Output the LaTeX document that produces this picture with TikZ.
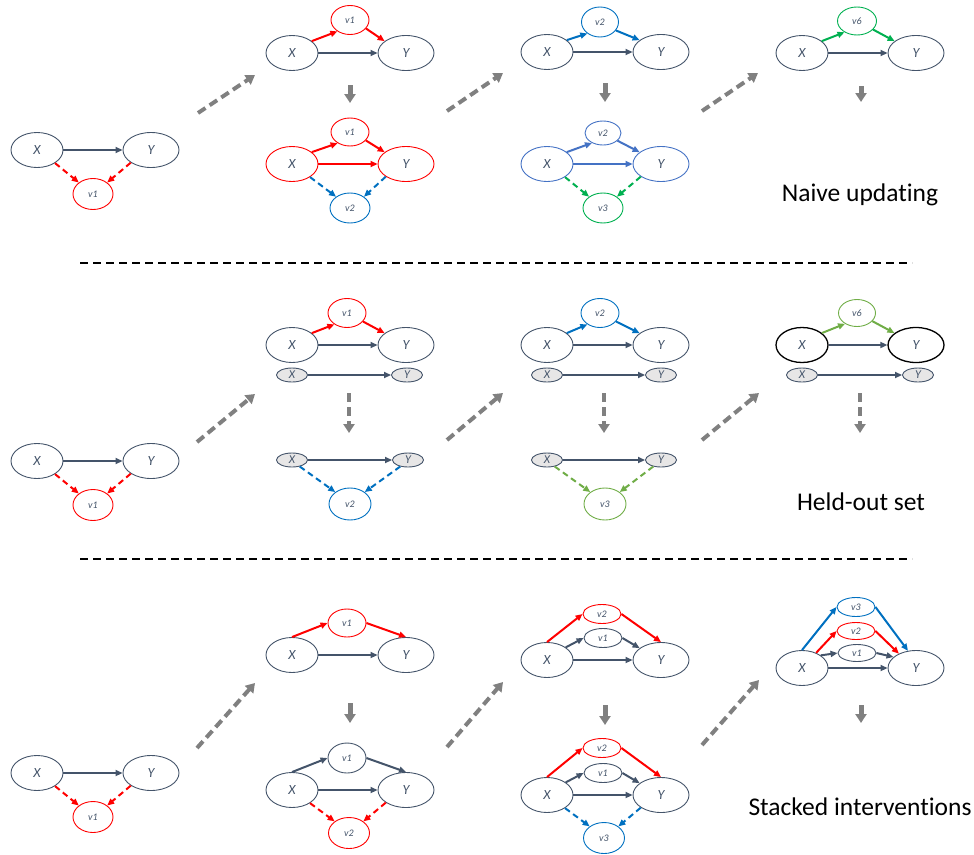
\documentclass[tikz,border=0pt]{standalone}
\usepackage{fontspec}
\setmainfont[Ligatures={NoCommon}]{Carlito}
\usetikzlibrary{shapes.geometric,arrows.meta}
\definecolor{slate}{HTML}{44546A}
\definecolor{msred}{HTML}{FF0000}
\definecolor{msblue}{HTML}{0070C0}
\definecolor{lblue}{HTML}{4472C4}
\definecolor{msgreen}{HTML}{00B050}
\definecolor{lgreen}{HTML}{70AD47}
\definecolor{arrgray}{HTML}{808080}
\definecolor{held}{HTML}{E7E6E6}
\newcommand\lbl{\fontsize{14}{14}\selectfont\itshape}
\newcommand\vlbl{\fontsize{10}{10}\selectfont\itshape}
\begin{document}
\begin{tikzpicture}[x=1pt,y=-1pt,
  main node/.style={ellipse,draw=slate,line width=0.9pt,inner sep=0pt,minimum width=52pt,minimum height=35pt,text=slate,font=\lbl},
  wide node/.style={main node,minimum width=56pt},
  var node/.style={main node,minimum width=38pt,minimum height=29pt,font=\vlbl},
  thin node/.style={var node,minimum height=19pt},
  held node/.style={main node,fill=held,minimum width=31pt,minimum height=14pt,font=\fontsize{12}{12}\selectfont\itshape},
  link/.style={line width=2pt,-{Triangle[length=7pt,width=6pt]},slate},
  dlink/.style={link,dash pattern=on 6pt off 4pt},
  flow/.style={line width=4pt,draw=arrgray,dash pattern=on 9pt off 5pt,-{Triangle[length=9pt,width=11pt]}},
  drop/.style={line width=5pt,draw=arrgray,-{Triangle[length=9pt,width=11pt]}},
  title/.style={font=\fontsize{25.5}{30}\selectfont,text=black}]
  \useasboundingbox (0,0) rectangle (974,854);

  % row 1: naive updating
  \node[main node] (a1x) at (37,150) {X};
  \node[wide node] (a1y) at (151,150) {Y};
  \node[var node,draw=msred,minimum width=40pt,minimum height=31pt] (a1v) at (93,194) {v1};

  \node[var node,draw=msred] (b1v) at (350,20) {v1};
  \node[main node] (b1x) at (292,53) {X};
  \node[wide node] (b1y) at (406,53) {Y};

  \node[var node,draw=msred,minimum height=28pt] (c1v) at (350,132) {v1};
  \node[main node,draw=msred] (c1x) at (292,164) {X};
  \node[wide node,draw=msred] (c1y) at (406,164) {Y};
  \node[var node,draw=msblue,minimum width=40pt,minimum height=30pt] (c1w) at (350,208) {v2};

  \node[var node,draw=msblue,minimum width=37pt,minimum height=30pt] (d1v) at (600,22) {v2};
  \node[main node] (d1x) at (547,52) {X};
  \node[wide node] (d1y) at (661,52) {Y};

  \node[var node,draw=lblue,minimum width=36pt,minimum height=24pt] (e1v) at (603,133) {v2};
  \node[main node,draw=lblue] (e1x) at (547,164) {X};
  \node[wide node,draw=lblue] (e1y) at (661,164) {Y};
  \node[var node,draw=msgreen,minimum width=40pt,minimum height=30pt] (e1w) at (603,208) {v3};

  \node[var node,draw=msgreen,minimum width=39pt,minimum height=28pt] (f1v) at (857,21) {v6};
  \node[main node] (f1x) at (802,53) {X};
  \node[wide node] (f1y) at (916,53) {Y};

  \node[title] (t1) at (860,195) {Naive updating};

  \path
   (a1x) edge[link] (a1y)
   (a1x.-36) edge[dlink,msred] (a1v.141)
   (a1y.-148) edge[dlink,msred] (a1v.39)
   (b1x) edge[link] (b1y)
   (b1x.31) edge[link,msred] (b1v.222)
   (b1v.-28) edge[link,msred] (b1y.151)
   (c1x) edge[link,msred] (c1y)
   (c1x.31) edge[link,msred] (c1v.222)
   (c1v.-28) edge[link,msred] (c1y.151)
   (c1x.-36) edge[dlink,msblue] (c1w.141)
   (c1y.-148) edge[dlink,msblue] (c1w.39)
   (d1x) edge[link] (d1y)
   (d1x.31) edge[link,msblue] (d1v.222)
   (d1v.-28) edge[link,msblue] (d1y.151)
   (e1x) edge[link,lblue] (e1y)
   (e1x.31) edge[link,lblue] (e1v.222)
   (e1v.-28) edge[link,lblue] (e1y.151)
   (e1x.-36) edge[dlink,msgreen] (e1w.141)
   (e1y.-148) edge[dlink,msgreen] (e1w.39)
   (f1x) edge[link] (f1y)
   (f1x.31) edge[link,msgreen] (f1v.222)
   (f1v.-28) edge[link,msgreen] (f1y.151);

  \draw[flow] (198,113) -- (255,75);
  \draw[flow] (447,111) -- (503,73);
  \draw[flow] (702,111) -- (758,73);
  \draw[drop] (350,85) -- (350,103);
  \draw[drop] (605,83) -- (605,102);
  \draw[drop] (861,86) -- (861,102);

  \draw[line width=2pt,dash pattern=on 8pt off 5pt] (80,263) -- (912,263);

  % row 2: held-out set
  \node[main node] (a2x) at (37,461) {X};
  \node[wide node] (a2y) at (151,461) {Y};
  \node[var node,draw=msred,minimum width=40pt,minimum height=31pt] (a2v) at (93,505) {v1};

  \node[var node,draw=msred] (b2v) at (347,313) {v1};
  \node[main node] (b2x) at (292,345) {X};
  \node[wide node] (b2y) at (406,345) {Y};
  \node[held node] (b2p) at (292,375) {X};
  \node[held node] (b2q) at (407,375) {Y};

  \node[held node] (c2p) at (292,460) {X};
  \node[held node] (c2q) at (408,460) {Y};
  \node[var node,draw=msblue,minimum width=42pt,minimum height=32pt] (c2v) at (350,504) {v2};

  \node[var node,draw=msblue] (d2v) at (600,313) {v2};
  \node[main node] (d2x) at (547,345) {X};
  \node[wide node] (d2y) at (661,345) {Y};
  \node[held node] (d2p) at (547,375) {X};
  \node[held node] (d2q) at (661,375) {Y};

  \node[held node] (e2p) at (547,460) {X};
  \node[held node] (e2q) at (661,460) {Y};
  \node[var node,draw=lgreen,minimum width=42pt,minimum height=32pt] (e2v) at (605,504) {v3};

  \node[var node,draw=lgreen,minimum width=37pt,minimum height=27pt] (f2v) at (857,313) {v6};
  \node[main node,draw=black,line width=1.3pt] (f2x) at (802,345) {X};
  \node[wide node,draw=black,line width=1.3pt] (f2y) at (916,345) {Y};
  \node[held node] (f2p) at (802,375) {X};
  \node[held node] (f2q) at (918,375) {Y};

  \node[title] (t2) at (861,502) {Held-out set};

  \path
   (a2x) edge[link] (a2y)
   (a2x.-36) edge[dlink,msred] (a2v.141)
   (a2y.-148) edge[dlink,msred] (a2v.39)
   (b2x) edge[link] (b2y)
   (b2x.31) edge[link,msred] (b2v.222)
   (b2v.-28) edge[link,msred] (b2y.151)
   (b2p) edge[link] (b2q)
   (c2p) edge[link] (c2q)
   (c2p.-40) edge[dlink,msblue] (c2v.141)
   (c2q.-140) edge[dlink,msblue] (c2v.39)
   (d2x) edge[link] (d2y)
   (d2x.31) edge[link,msblue] (d2v.222)
   (d2v.-28) edge[link,msblue] (d2y.151)
   (d2p) edge[link] (d2q)
   (e2p) edge[link] (e2q)
   (e2p.-40) edge[dlink,lgreen] (e2v.141)
   (e2q.-140) edge[dlink,lgreen] (e2v.39)
   (f2x) edge[link] (f2y)
   (f2x.31) edge[link,lgreen] (f2v.222)
   (f2v.-28) edge[link,lgreen] (f2y.151)
   (f2p) edge[link] (f2q);

  \draw[flow] (197,442) -- (255,394);
  \draw[flow] (447,440) -- (503,393);
  \draw[flow] (702,440) -- (759,393);
  \draw[flow] (349,393) -- (349,433);
  \draw[flow] (604,393) -- (604,433);
  \draw[flow] (860,393) -- (860,433);

  \draw[line width=2pt,dash pattern=on 8pt off 5pt] (80,559) -- (912,559);

  % row 3: stacked interventions
  \node[main node] (a3x) at (37,773) {X};
  \node[wide node] (a3y) at (151,773) {Y};
  \node[var node,draw=msred,minimum width=40pt,minimum height=31pt] (a3v) at (93,817) {v1};

  \node[var node,draw=msred,minimum height=28pt] (b3v) at (347,623) {v1};
  \node[main node] (b3x) at (292,655) {X};
  \node[wide node] (b3y) at (406,655) {Y};

  \node[var node,minimum height=30pt] (c3v) at (347,758) {v1};
  \node[main node] (c3x) at (292,790) {X};
  \node[wide node] (c3y) at (406,790) {Y};
  \node[var node,draw=msred,minimum width=41pt,minimum height=31pt] (c3w) at (349,833) {v2};

  \node[thin node,draw=msred] (d3w) at (602,614) {v2};
  \node[thin node] (d3v) at (603,638) {v1};
  \node[main node] (d3x) at (547,660) {X};
  \node[wide node] (d3y) at (661,660) {Y};

  \node[thin node,draw=msred] (e3w) at (602,748) {v2};
  \node[thin node] (e3v) at (603,773) {v1};
  \node[main node] (e3x) at (547,795) {X};
  \node[wide node] (e3y) at (661,795) {Y};
  \node[var node,draw=msblue,minimum width=41pt,minimum height=31pt] (e3z) at (604,838) {v3};

  \node[thin node,draw=msblue,minimum height=19pt] (f3u) at (856,607) {v3};
  \node[thin node,draw=msred,minimum height=17pt] (f3w) at (856,631) {v2};
  \node[thin node,minimum height=17pt] (f3v) at (857,653) {v1};
  \node[main node] (f3x) at (802,668) {X};
  \node[wide node] (f3y) at (916,668) {Y};

  \node[title] (t3) at (860,807) {Stacked interventions};

  \path
   (a3x) edge[link] (a3y)
   (a3x.-36) edge[dlink,msred] (a3v.141)
   (a3y.-148) edge[dlink,msred] (a3v.39)
   (b3x) edge[link] (b3y)
   (b3x.north) edge[link,msred] (b3v.west)
   (b3v.east) edge[link,msred] (b3y.north)
   (c3x) edge[link] (c3y)
   (c3x.north) edge[link] (c3v.west)
   (c3v.east) edge[link] (c3y.north)
   (c3x.-36) edge[dlink,msred] (c3w.141)
   (c3y.-148) edge[dlink,msred] (c3w.39)
   (d3x) edge[link] (d3y)
   (d3x.north) edge[link,msred] (d3w.west)
   (d3w.east) edge[link,msred] (d3y.north)
   (d3x.34) edge[link] (d3v.west)
   (d3v.east) edge[link] (d3y.151)
   (e3x) edge[link] (e3y)
   (e3x.north) edge[link,msred] (e3w.west)
   (e3w.east) edge[link,msred] (e3y.north)
   (e3x.34) edge[link] (e3v.west)
   (e3v.east) edge[link] (e3y.151)
   (e3x.-36) edge[dlink,msblue] (e3z.141)
   (e3y.-148) edge[dlink,msblue] (e3z.39)
   (f3x) edge[link] (f3y)
   (f3x.north) edge[link,msblue] (f3u.west)
   (f3u.east) edge[link,msblue] (f3y.115)
   (f3x.47) edge[link,msred] (f3w.west)
   (f3w.east) edge[link,msred] (f3y.140)
   (f3x.34) edge[link] (f3v.west)
   (f3v.east) edge[link] (f3y.154);

  \draw[flow] (197,748) -- (255,683);
  \draw[flow] (447,747) -- (503,682);
  \draw[flow] (702,745) -- (759,680);
  \draw[drop] (350,703) -- (350,723);
  \draw[drop] (605,705) -- (605,725);
  \draw[drop] (861,705) -- (861,723);
\end{tikzpicture}
\end{document}
